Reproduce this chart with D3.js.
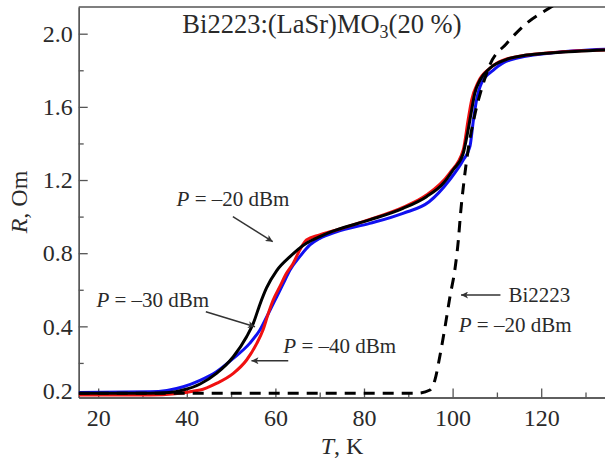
<!DOCTYPE html>
<html>
<head>
<meta charset="utf-8">
<script src="https://cdn.jsdelivr.net/npm/d3@7"></script>
<style>
  body { margin: 0; background: #fff; }
  text { font-family: "Liberation Serif", "Times New Roman", serif; fill: #2a2a2a; }
</style>
</head>
<body>
<div id="chart"></div>
<script>
// data: T in K, R in Om
var blackT = [15.6, 31.7, 36, 39.2, 43, 46.7, 50.5, 53.5, 55.0, 56.5, 58.0, 60.3, 63.3, 67.0, 70.0, 73.8, 81.3, 88.8, 94.1, 97.9, 100.1, 102.4, 103.5, 104.3, 105.0, 106.2, 108.4, 112.2, 116.7, 122.7, 134.4];
var blackR = [0.034, 0.034, 0.038, 0.052, 0.085, 0.143, 0.234, 0.343, 0.416, 0.520, 0.610, 0.705, 0.781, 0.854, 0.890, 0.927, 0.982, 1.045, 1.109, 1.182, 1.255, 1.346, 1.473, 1.583, 1.674, 1.747, 1.811, 1.860, 1.883, 1.896, 1.911];

var blueT = [15.6, 31.7, 39.2, 43, 46.7, 50.5, 54.2, 56.5, 58.8, 60.3, 61.8, 63.3, 65.5, 67.8, 70.0, 73.8, 81.3, 88.8, 94.7, 99.3, 102.4, 103.9, 104.7, 105.4, 106.5, 109.2, 112.9, 122.7, 134.4];
var blueR = [0.039, 0.042, 0.070, 0.105, 0.152, 0.225, 0.307, 0.380, 0.489, 0.562, 0.635, 0.708, 0.781, 0.845, 0.881, 0.917, 0.963, 1.018, 1.081, 1.200, 1.309, 1.382, 1.528, 1.637, 1.729, 1.801, 1.856, 1.896, 1.915];

var redT = [15.6, 31.7, 43.0, 46.7, 50.5, 53.5, 55.8, 57.2, 58.4, 59.5, 61.0, 62.5, 64.0, 65.5, 67.0, 70.0, 73.8, 81.3, 88.8, 94.1, 99.3, 102.4, 103.5, 104.3, 105.8, 108.4, 112.2, 122.7, 134.4];
var redR = [0.025, 0.025, 0.052, 0.088, 0.143, 0.216, 0.307, 0.380, 0.471, 0.544, 0.617, 0.690, 0.744, 0.817, 0.872, 0.900, 0.927, 0.985, 1.051, 1.118, 1.237, 1.364, 1.528, 1.637, 1.737, 1.811, 1.862, 1.897, 1.911];

// Bi2223, P = -20 dBm (dashed)
var dashT = [15.6, 91.9, 94.9, 96.0, 97.1, 98.3, 99.4, 100.5, 101.3, 101.8, 102.6, 103.5, 105.0, 106.6, 108.4, 112.2, 116.7, 122.3, 125];
var dashR = [0.034, 0.034, 0.052, 0.106, 0.234, 0.398, 0.562, 0.708, 0.872, 1.018, 1.200, 1.364, 1.555, 1.703, 1.829, 1.947, 2.057, 2.147, 2.19];

var xTicks = [20, 40, 60, 80, 100, 120];
var xMinor = [30, 50, 70, 90, 110, 130];
var yTicks = [0.4, 0.8, 1.2, 1.6, 2.0];
var yMinor = [0.2, 0.6, 1.0, 1.4, 1.8];
// bottom label of the original sits on the baseline
var yBottomLabel = { value: 0.046, text: "0.2" };

var svgWidth = 605;
var svgHeight = 461;
var margin = { top: 7, right: 0, bottom: 63.5, left: 78.7 };
var width = svgWidth - margin.left - margin.right;
var height = svgHeight - margin.top - margin.bottom;

var svg = d3.select("#chart").append("svg")
  .attr("width", svgWidth)
  .attr("height", svgHeight);

var defs = svg.append("defs");
defs.append("clipPath").attr("id", "clip")
  .append("rect").attr("width", width).attr("height", height);
defs.append("marker")
  .attr("id", "arrow")
  .attr("viewBox", "0 0 10 10")
  .attr("refX", 10).attr("refY", 5)
  .attr("markerWidth", 10).attr("markerHeight", 7)
  .attr("markerUnits", "userSpaceOnUse")
  .attr("orient", "auto")
  .append("path").attr("d", "M0,0 L10,5 L0,10 L2.5,5 Z").attr("fill", "#333");

var chartGroup = svg.append("g")
  .attr("transform", `translate(${margin.left}, ${margin.top})`);

var x = d3.scaleLinear().domain([15.6, 134.4]).range([0, width]);
var y = d3.scaleLinear().domain([0.011, 2.146]).range([height, 0]);

// axes, ticks inward
var xAxis = d3.axisBottom(x).tickValues(xTicks).tickSizeInner(-9).tickSizeOuter(0).tickPadding(11);
var xAxisMinor = d3.axisBottom(x).tickValues(xMinor).tickSizeInner(-5).tickSizeOuter(0).tickFormat("");
var yAxis = d3.axisLeft(y).tickValues(yTicks).tickSizeInner(-9).tickSizeOuter(0).tickPadding(6).tickFormat(d3.format(".1f"));
var yAxisMinor = d3.axisLeft(y).tickValues(yMinor).tickSizeInner(-5).tickSizeOuter(0).tickFormat("");

var gx = chartGroup.append("g").attr("transform", `translate(0, ${height})`).call(xAxis);
chartGroup.append("g").attr("transform", `translate(0, ${height})`).call(xAxisMinor);
var gy = chartGroup.append("g").call(yAxis);
chartGroup.append("g").call(yAxisMinor);

gy.append("text")
  .attr("x", -6).attr("y", y(yBottomLabel.value)).attr("dy", "0.32em")
  .attr("text-anchor", "end")
  .text(yBottomLabel.text);

chartGroup.selectAll(".domain, .tick line").attr("stroke", "#555").attr("stroke-width", 1.3);
chartGroup.selectAll(".tick text, g > text").attr("font-size", 24).attr("fill", "#2a2a2a")
  .style("font-family", "'Liberation Serif', 'Times New Roman', serif");

// top frame line
chartGroup.append("line")
  .attr("x1", 0).attr("x2", width).attr("y1", 0).attr("y2", 0)
  .attr("stroke", "#555").attr("stroke-width", 1.3);

// curves
var line = d3.line()
  .x(d => x(d[0]))
  .y(d => y(d[1]))
  .curve(d3.curveMonotoneX);

var plot = chartGroup.append("g").attr("clip-path", "url(#clip)");

function drawCurve(ts, rs, color, dash) {
  var pts = ts.map((t, i) => [t, rs[i]]);
  plot.append("path")
    .datum(pts)
    .attr("d", line)
    .attr("fill", "none")
    .attr("stroke", color)
    .attr("stroke-width", 3)
    .attr("stroke-dasharray", dash || null);
}

drawCurve(blueT, blueR, "#1010f0");
drawCurve(redT, redR, "#f01010");
drawCurve(blackT, blackR, "#000");
drawCurve(dashT, dashR, "#000", "11,8");

// arrows (data coordinates)
var arrows = [
  [[50.4, 1.0], [59.4, 0.863]],
  [[44.3, 0.48], [55.4, 0.398]],
  [[62.9, 0.212], [54.6, 0.212]],
  [[110.8, 0.571], [101.9, 0.571]]
];
chartGroup.selectAll(".arrow").data(arrows).enter()
  .append("line")
  .attr("x1", d => x(d[0][0])).attr("y1", d => y(d[0][1]))
  .attr("x2", d => x(d[1][0])).attr("y2", d => y(d[1][1]))
  .attr("stroke", "#333").attr("stroke-width", 1.5)
  .attr("marker-end", "url(#arrow)");

// labels "P = -xx dBm"
var powerLabels = [
  { t: 37.7, r: 1.059, p: "–20" },
  { t: 19.6, r: 0.507, p: "–30" },
  { t: 61.8, r: 0.254, p: "–40" },
  { t: 101.4, r: 0.370, p: "–20" }
];
powerLabels.forEach(function(d) {
  var t = chartGroup.append("text")
    .attr("x", x(d.t)).attr("y", y(d.r))
    .attr("font-size", 21);
  t.append("tspan").attr("font-style", "italic").text("P");
  t.append("tspan").text(" = " + d.p + " dBm");
});

chartGroup.append("text")
  .attr("x", x(112.6)).attr("y", y(0.534))
  .attr("font-size", 21)
  .text("Bi2223");

// title
var title = chartGroup.append("text")
  .attr("x", x(39.0)).attr("y", y(2.002))
  .attr("font-size", 26.5);
title.append("tspan").text("Bi2223:(LaSr)MO");
title.append("tspan").attr("font-size", 18).attr("dy", 5).text("3");
title.append("tspan").attr("dy", -5).text("(20 %)");

// axis titles
var yt = svg.append("text")
  .attr("transform", "translate(27, 202) rotate(-90)")
  .attr("text-anchor", "middle")
  .attr("font-size", 24);
yt.append("tspan").attr("font-style", "italic").text("R");
yt.append("tspan").text(", Om");

var xt = svg.append("text")
  .attr("x", 342).attr("y", 454)
  .attr("text-anchor", "middle")
  .attr("font-size", 24);
xt.append("tspan").attr("font-style", "italic").text("T");
xt.append("tspan").text(", K");
</script>
</body>
</html>
